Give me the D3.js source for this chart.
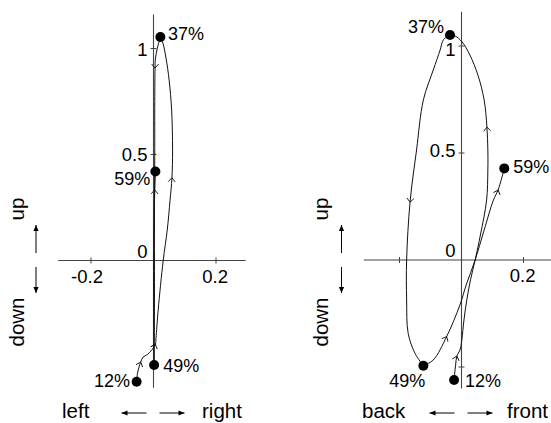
<!DOCTYPE html>
<html>
<head>
<meta charset="utf-8">
<script src="https://cdn.jsdelivr.net/npm/d3@7"></script>
<style>
  body { margin: 0; background: #fff; }
  svg { font-family: Arial, "Liberation Sans", sans-serif; }
</style>
</head>
<body>
<div id="chart"></div>
<script>
// trajectory data, x = side motion, y = vertical (same units as axes)
// left panel: left/right
var leftUp = [ // 12% -> 37%
  [-0.054,-0.572],[-0.051,-0.530],[-0.041,-0.479],[-0.033,-0.455],[-0.020,-0.444],
  [-0.007,-0.425],[0.006,-0.395],[0.008,-0.366],[0.015,-0.233],[0.031,0],
  [0.044,0.144],[0.053,0.285],[0.059,0.39],[0.061,0.52],[0.058,0.71],
  [0.050,0.851],[0.040,0.955],[0.030,1.026],[0.022,1.054]
];
var leftDown = [ // 37% -> 49%
  [0.022,1.054],[0.012,1.0],[0.006,0.95],[0.005,0.908],[0.004,0.75],
  [0.004,0.5],[0.003,0.2],[0.003,-0.2],[0.002,-0.493]
];
var leftBack = [ // 49% -> 59%
  [0.002,-0.493],[0.001,-0.3],[0.001,0],[0.002,0.2],[0.004,0.333],[0.006,0.42]
];
// right panel: back/front
var rightUp = [
  [-0.024,-0.561],[-0.019,-0.491],[-0.015,-0.449],[-0.005,-0.421],[0.001,-0.374],
  [0.008,-0.28],[0.017,-0.187],[0.029,-0.093],[0.044,0],[0.061,0.117],
  [0.081,0.28],[0.085,0.421],[0.085,0.514],[0.082,0.621],[0.073,0.748],
  [0.053,0.864],[0.027,0.958],[0.002,1.019],[-0.021,1.047],[-0.037,1.051]
];
var rightDown = [
  [-0.037,1.051],[-0.058,1.03],[-0.069,0.981],[-0.091,0.888],[-0.123,0.748],
  [-0.145,0.514],[-0.166,0.27],[-0.177,0],[-0.177,-0.187],[-0.172,-0.343],
  [-0.150,-0.436],[-0.123,-0.494]
];
var rightBack = [
  [-0.123,-0.494],[-0.091,-0.467],[-0.048,-0.358],[-0.005,-0.21],[0.015,-0.117],
  [0.044,0],[0.073,0.14],[0.103,0.28],[0.118,0.327],[0.138,0.428]
];

// arrow marks sit on these vertices (segment, index)
var leftArrows = [["up",2],["up",6],["up",12],["down",3],["back",4]];
var rightArrows = [["up",2],["up",13],["down",6],["back",2],["back",8]];

// labelled phase points
var phases = ["12%","37%","49%","59%"];
var leftPhase = [[-0.054,-0.572],[0.022,1.054],[0.002,-0.493],[0.006,0.42]];
var rightPhase = [[-0.024,-0.561],[-0.037,1.051],[-0.123,-0.494],[0.138,0.428]];

var xTicks = [-0.2, 0.2];
var yTicks = [-0.5, 0.5, 1];
var yTickLabels = ["0.5", "1"];

var W = 551, H = 423;
var svg = d3.select("#chart").append("svg")
  .attr("width", W).attr("height", H);

function drawPanel(cfg) {
  var x = d3.scaleLinear().domain([-0.2, 0.2]).range(cfg.xr);
  var y = d3.scaleLinear().domain([0, 1]).range(cfg.yr);
  var g = svg.append("g");
  var axisCol = "#444";

  // axes through origin
  g.append("line").attr("x1", x(cfg.xdom[0])).attr("x2", x(cfg.xdom[1]))
    .attr("y1", y(0)).attr("y2", y(0)).attr("stroke", axisCol).attr("stroke-width", 1.1);
  g.append("line").attr("x1", x(0)).attr("x2", x(0))
    .attr("y1", y(1.16)).attr("y2", y(-0.6)).attr("stroke", axisCol).attr("stroke-width", 1.1);

  g.selectAll(".xt").data(xTicks).enter().append("line")
    .attr("x1", d => x(d)).attr("x2", d => x(d))
    .attr("y1", y(0) - 3).attr("y2", y(0) + 3).attr("stroke", axisCol);
  g.selectAll(".yt").data(yTicks).enter().append("line")
    .attr("x1", x(0) - 3).attr("x2", x(0) + 3)
    .attr("y1", d => y(d)).attr("y2", d => y(d)).attr("stroke", axisCol);

  g.selectAll(".xl").data(cfg.xLabels).enter().append("text")
    .attr("x", d => x(+d) + 12).attr("y", y(0) + 22)
    .attr("text-anchor", "end").attr("font-size", 18.5).text(d => d);
  g.selectAll(".yl").data(yTickLabels).enter().append("text")
    .attr("x", x(0) - 6).attr("y", (d, i) => y(+d) + cfg.yLabDy[i])
    .attr("text-anchor", "end").attr("font-size", 18.5).text(d => d);
  g.append("text").attr("x", x(0) - 6).attr("y", y(0) - 3)
    .attr("text-anchor", "end").attr("font-size", 18.5).text("0");

  // trajectory
  var line = d3.line().x(d => x(d[0])).y(d => y(d[1])).curve(d3.curveCatmullRom.alpha(0.5));
  var segs = {up: cfg.up, down: cfg.down, back: cfg.back};
  ["up", "down", "back"].forEach(function(k) {
    g.append("path").attr("d", line(segs[k])).attr("fill", "none")
      .attr("stroke", "#111").attr("stroke-width", 1);
  });

  // direction chevrons
  cfg.arrows.forEach(function(a) {
    var s = segs[a[0]], i = a[1];
    var p0 = s[i - 1], p1 = s[i + 1];
    var ang = Math.atan2(y(p1[1]) - y(p0[1]), x(p1[0]) - x(p0[0])) * 180 / Math.PI;
    g.append("path").attr("d", "M-4,-3.5L0,0L-4,3.5").attr("fill", "none")
      .attr("stroke", "#111").attr("stroke-width", 0.9)
      .attr("transform", "translate(" + x(s[i][0]) + "," + y(s[i][1]) + ")rotate(" + ang + ")");
  });

  // phase dots
  g.selectAll(".dot").data(cfg.phase).enter().append("circle")
    .attr("cx", d => x(d[0])).attr("cy", d => y(d[1])).attr("r", 5).attr("fill", "#000");
  g.selectAll(".pl").data(cfg.phase).enter().append("text")
    .attr("x", (d, i) => x(d[0]) + cfg.labOff[i][0])
    .attr("y", (d, i) => y(d[1]) + cfg.labOff[i][1])
    .attr("text-anchor", (d, i) => cfg.labOff[i][2])
    .attr("font-size", 18).text((d, i) => phases[i]);

  // direction words and arrows
  var ax = cfg.vArrowX;
  function arrow(x1, y1, x2, y2) {
    g.append("line").attr("x1", x1).attr("y1", y1).attr("x2", x2).attr("y2", y2)
      .attr("stroke", "#000").attr("stroke-width", 1);
    var ang = Math.atan2(y2 - y1, x2 - x1) * 180 / Math.PI;
    g.append("path").attr("d", "M0,0L-6,-2.6L-6,2.6Z").attr("fill", "#000")
      .attr("transform", "translate(" + x2 + "," + y2 + ")rotate(" + ang + ")");
  }
  arrow(ax, 253, ax, 225);
  arrow(ax, 267, ax, 293);
  g.append("text").attr("transform", "translate(" + cfg.vTextX + ",209)rotate(-90)")
    .attr("text-anchor", "middle").attr("font-size", 20.5).text("up");
  g.append("text").attr("transform", "translate(" + cfg.vTextX + ",322)rotate(-90)")
    .attr("text-anchor", "middle").attr("font-size", 20.5).text("down");

  var hx = x(0), hy = 413;
  arrow(hx - 7, hy, hx - 32, hy);
  arrow(hx + 6, hy, hx + 31, hy);
  g.append("text").attr("x", cfg.hText[0]).attr("y", 418).attr("font-size", 20.5)
    .text(cfg.words[0]);
  g.append("text").attr("x", cfg.hText[1]).attr("y", 418).attr("font-size", 20.5)
    .text(cfg.words[1]);
}

drawPanel({
  xr: [91, 216], yr: [260.5, 48.5], xdom: [-0.305, 0.295],
  xLabels: ["-0.2", "0.2"], yLabDy: [6, 7],
  up: leftUp, down: leftDown, back: leftBack, arrows: leftArrows,
  phase: leftPhase,
  labOff: [[-6.5, 5.5, "end"], [7.5, 2.5, "start"], [9, 6.5, "start"], [-5, 13.5, "end"]],
  vArrowX: 36, vTextX: 24, hText: [62, 202], words: ["left", "right"]
});
drawPanel({
  xr: [399.5, 523.5], yr: [260, 46], xdom: [-0.315, 0.3],
  xLabels: ["0.2"], yLabDy: [4, 10],
  up: rightUp, down: rightDown, back: rightBack, arrows: rightArrows,
  phase: rightPhase,
  labOff: [[11, 6.7, "start"], [-6, -2, "end"], [2, 21, "end"], [9, 5, "start"]],
  vArrowX: 341.5, vTextX: 328, hText: [362, 507], words: ["back", "front"]
});
</script>
</body>
</html>
